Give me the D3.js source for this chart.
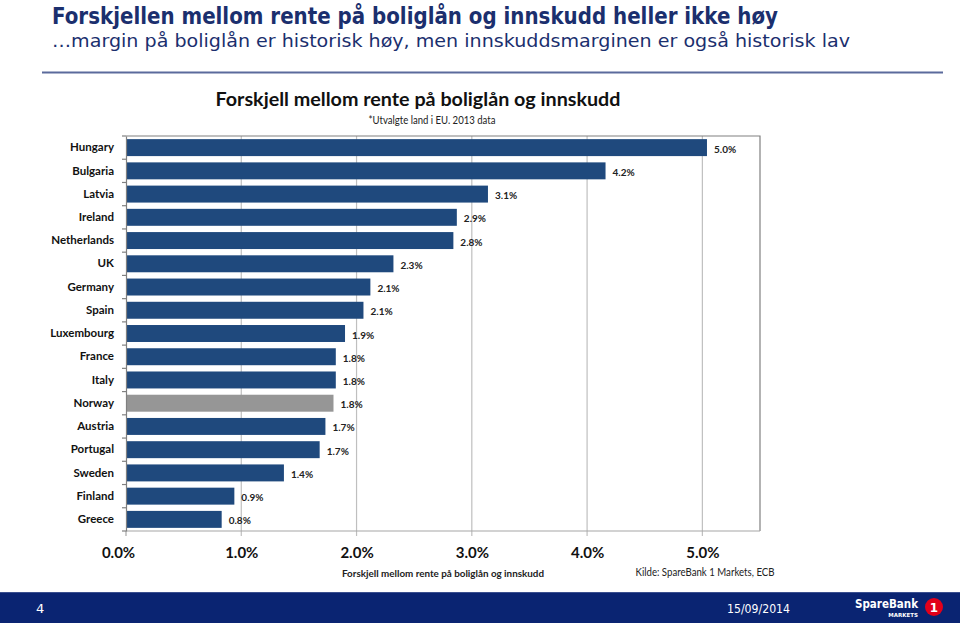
<!DOCTYPE html>
<html><head><meta charset="utf-8">
<script src="https://cdn.jsdelivr.net/npm/d3@7"></script>
<style>
html,body{margin:0;padding:0;background:#fff;}
svg{display:block;}
</style></head>
<body>
<script>
const countries = ["Hungary","Bulgaria","Latvia","Ireland","Netherlands","UK","Germany","Spain","Luxembourg","France","Italy","Norway","Austria","Portugal","Sweden","Finland","Greece"];
const spread = [5.04,4.16,3.14,2.87,2.84,2.32,2.12,2.06,1.90,1.82,1.82,1.80,1.73,1.68,1.37,0.94,0.83];
const highlighted = ["Norway"];
const xTicks = [0,1,2,3,4,5];

const W = 960, H = 627;
const svg = d3.select("body").append("svg").attr("width", W).attr("height", H);
const navy = "#1b2f6e";

// Slide header
svg.append("text").attr("x", 52).attr("y", 24)
  .attr("font-family", "DejaVu Sans").attr("font-weight", "bold").attr("font-size", 23)
  .attr("fill", navy).attr("textLength", 726).attr("lengthAdjust", "spacingAndGlyphs")
  .text("Forskjellen mellom rente på boliglån og innskudd heller ikke høy");
svg.append("text").attr("x", 52).attr("y", 47)
  .attr("font-family", "DejaVu Sans").attr("font-size", 17)
  .attr("fill", navy).attr("textLength", 798).attr("lengthAdjust", "spacingAndGlyphs")
  .text("…margin på boliglån er historisk høy, men innskuddsmarginen er også historisk lav");
svg.append("line").attr("x1", 42).attr("x2", 943).attr("y1", 72.5).attr("y2", 72.5)
  .attr("stroke", "#5b6a9c").attr("stroke-width", 2);

// Chart title
svg.append("text").attr("x", 418).attr("y", 106).attr("text-anchor", "middle")
  .attr("font-family", "Lato").attr("font-weight", "bold").attr("font-size", 18)
  .attr("fill", "#111").attr("textLength", 405).attr("lengthAdjust", "spacingAndGlyphs")
  .text("Forskjell mellom rente på boliglån og innskudd");
svg.append("text").attr("x", 432).attr("y", 124).attr("text-anchor", "middle")
  .attr("font-family", "Lato").attr("font-size", 11.5)
  .attr("fill", "#222").attr("textLength", 127).attr("lengthAdjust", "spacingAndGlyphs")
  .text("*Utvalgte land i EU. 2013 data");

// Plot
const m = {left: 126, top: 136, right: 760, bottom: 531};
const x = d3.scaleLinear().domain([0, 5.5]).range([m.left, m.right]);
const y = d3.scaleBand().domain(countries).range([m.top, m.bottom]).paddingInner(0.27).paddingOuter(0.135);

const g = svg.append("g");
// gridlines
g.selectAll("line.grid").data(xTicks.filter(d => d > 0)).join("line")
  .attr("x1", d => x(d)).attr("x2", d => x(d)).attr("y1", m.top).attr("y2", m.bottom + 5)
  .attr("stroke", "#bfbfbf").attr("stroke-width", 1.2);
// frame top/right
g.append("path").attr("d", `M${m.left},${m.top}H${m.right}V${m.bottom}`)
  .attr("fill", "none").attr("stroke", "#808080").attr("stroke-width", 1.2);
// bottom axis
g.append("line").attr("x1", m.left).attr("x2", m.right).attr("y1", m.bottom).attr("y2", m.bottom)
  .attr("stroke", "#a6a6a6").attr("stroke-width", 1.2);
g.append("line").attr("x1", m.left).attr("x2", m.left).attr("y1", m.bottom).attr("y2", m.bottom + 5)
  .attr("stroke", "#a6a6a6").attr("stroke-width", 1.2);

// bars
g.selectAll("rect.bar").data(countries).join("rect")
  .attr("x", x(0)).attr("y", d => y(d))
  .attr("width", (d, i) => x(spread[i]) - x(0)).attr("height", y.bandwidth())
  .attr("fill", d => highlighted.includes(d) ? "#969696" : "#1f497d");

// value labels
g.selectAll("text.val").data(countries).join("text")
  .attr("x", (d, i) => x(spread[i]) + 7).attr("y", d => y(d) + y.bandwidth() / 2 + 5)
  .attr("font-family", "Lato").attr("font-weight", "bold").attr("font-size", 10)
  .attr("fill", "#222").text((d, i) => spread[i].toFixed(1) + "%");

// left axis
const yAxis = d3.axisLeft(y).tickSize(0).tickPadding(12);
const ya = svg.append("g").attr("transform", `translate(${m.left},0)`).call(yAxis);
ya.select(".domain").attr("stroke", "#808080").attr("stroke-width", 1.2);
ya.selectAll("text").attr("font-family", "Lato").attr("font-weight", "bold")
  .attr("font-size", 11.5).attr("fill", "#111");
// left axis tick marks at category boundaries
const bounds = d3.range(countries.length + 1).map(i => m.top + i * (m.bottom - m.top) / countries.length);
svg.selectAll("line.ytick").data(bounds).join("line")
  .attr("x1", m.left - 4).attr("x2", m.left).attr("y1", d => d).attr("y2", d => d)
  .attr("stroke", "#808080").attr("stroke-width", 1.2);

// bottom tick labels
const xAxis = d3.axisBottom(x).tickValues(xTicks).tickSize(0).tickPadding(16)
  .tickFormat(d => d.toFixed(1) + "%");
const xa = svg.append("g").attr("transform", `translate(0,${m.bottom})`).call(xAxis);
xa.select(".domain").remove();
xa.selectAll("text").attr("font-family", "Lato").attr("font-weight", "bold")
  .attr("font-size", 15).attr("fill", "#111")
  .attr("dx", d => d === 0 ? -8 : 0);

svg.append("text").attr("x", 443).attr("y", 577).attr("text-anchor", "middle")
  .attr("font-family", "Lato").attr("font-weight", "bold").attr("font-size", 10)
  .attr("fill", "#222").attr("textLength", 202).attr("lengthAdjust", "spacingAndGlyphs")
  .text("Forskjell mellom rente på boliglån og innskudd");
svg.append("text").attr("x", 705).attr("y", 576).attr("text-anchor", "middle")
  .attr("font-family", "Lato").attr("font-size", 10.5)
  .attr("fill", "#222").attr("textLength", 139).attr("lengthAdjust", "spacingAndGlyphs")
  .text("Kilde: SpareBank 1 Markets, ECB");

// Footer
svg.append("rect").attr("x", 0).attr("y", 592).attr("width", W).attr("height", 31).attr("fill", "#0a2472");
svg.append("line").attr("x1", 0).attr("x2", W).attr("y1", 592.5).attr("y2", 592.5).attr("stroke", "#3a4f8f");
svg.append("text").attr("x", 36).attr("y", 613).attr("font-family", "DejaVu Sans").attr("font-size", 13)
  .attr("fill", "#fff").text("4");
svg.append("text").attr("x", 727).attr("y", 613).attr("font-family", "DejaVu Sans").attr("font-size", 13)
  .attr("fill", "#fff").attr("textLength", 63).attr("lengthAdjust", "spacingAndGlyphs").text("15/09/2014");
svg.append("text").attr("x", 855).attr("y", 608).attr("font-family", "DejaVu Sans").attr("font-weight", "bold")
  .attr("font-size", 12.5).attr("fill", "#fff").attr("textLength", 63).attr("lengthAdjust", "spacingAndGlyphs").text("SpareBank");
svg.append("text").attr("x", 918).attr("y", 617).attr("text-anchor", "end").attr("font-family", "DejaVu Sans").attr("font-weight", "bold")
  .attr("font-size", 5.5).attr("fill", "#fff").text("MARKETS");
svg.append("circle").attr("cx", 934).attr("cy", 607).attr("r", 9).attr("fill", "#e2001a");
svg.append("text").attr("x", 934).attr("y", 611.5).attr("text-anchor", "middle").attr("font-family", "DejaVu Sans")
  .attr("font-weight", "bold").attr("font-size", 12).attr("fill", "#fff").text("1");
</script>
</body></html>
